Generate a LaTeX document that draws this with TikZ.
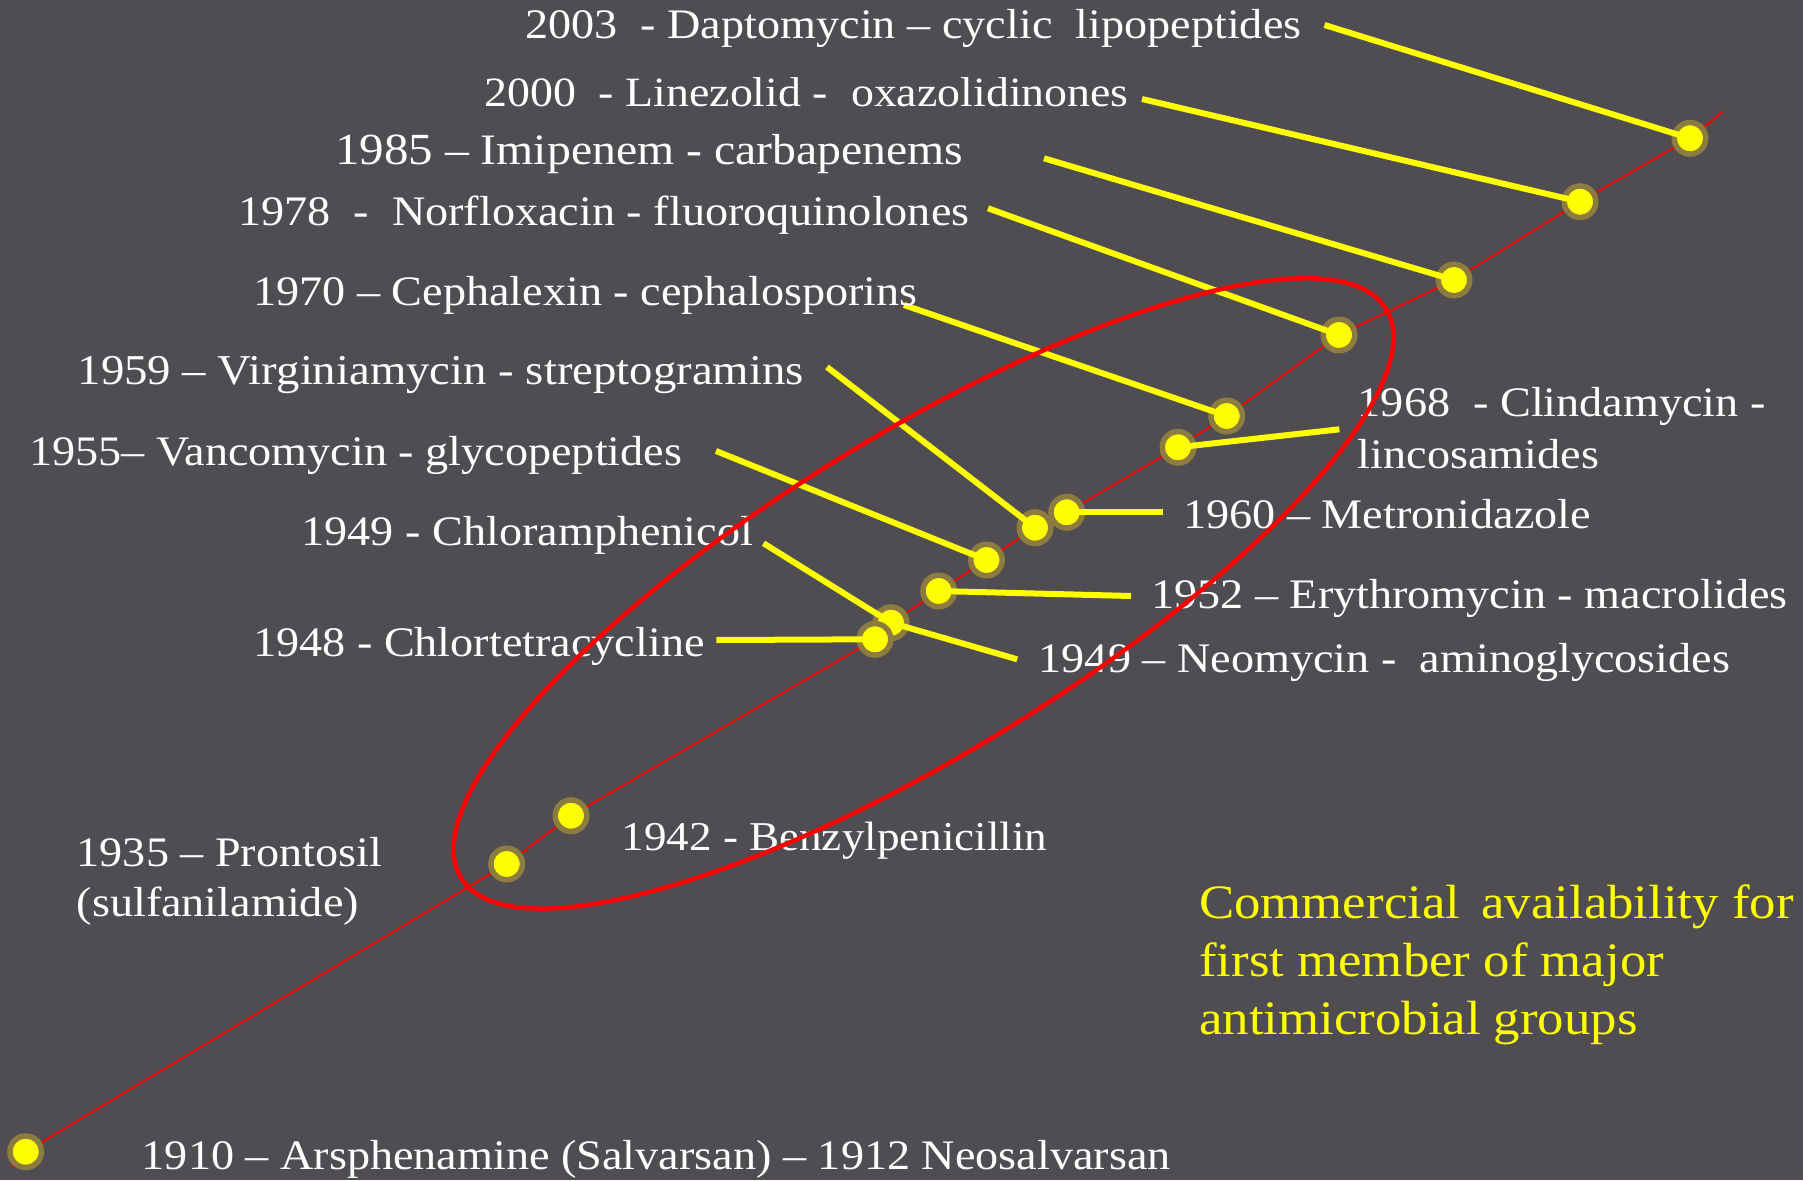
\documentclass[tikz,border=0pt]{standalone}
\usepackage{fontspec}
\setmainfont{Liberation Serif}[FakeStretch=1.10]
\definecolor{bg}{RGB}{79,77,82}
\definecolor{ring}{RGB}{140,124,64}
\definecolor{yel}{RGB}{255,255,0}
\definecolor{tred}{RGB}{255,0,0}
\begin{document}
\begin{tikzpicture}[x=1pt,y=-1pt,
  dot/.style={circle, fill=yel, draw=ring, line width=5.5pt, minimum size=31.5pt, inner sep=0pt},
  conn/.style={draw=yel, line width=6pt},
  lbl/.style={text=white, anchor=base west, inner sep=0pt, font=\fontsize{42}{50}\selectfont},
  note/.style={text=yel, anchor=base west, inner sep=0pt, font=\fontsize{48}{58}\selectfont},
  tline/.style={draw=tred, line width=1.8pt},
  oval/.style={draw=tred, line width=4.5pt}]
\fill[bg] (0,0) rectangle (1803,1180);
\useasboundingbox (0,0) rectangle (1803,1180);
% positions of the dots
\coordinate (p1910) at (25.7,1151.7);
\coordinate (p1935) at (506.7,864);
\coordinate (p1942) at (571,815.7);
\coordinate (p1948) at (875,639.3);
\coordinate (p1949) at (891,622.7);
\coordinate (p1952) at (938.7,591);
\coordinate (p1955) at (986.5,560);
\coordinate (p1959) at (1035,527.7);
\coordinate (p1960) at (1066.7,512.3);
\coordinate (p1968) at (1178,447.3);
\coordinate (p1970) at (1226.7,416);
\coordinate (p1978) at (1339,335);
\coordinate (p1985) at (1454,280);
\coordinate (p2000) at (1580,201.7);
\coordinate (p2003) at (1690,138.3);
\coordinate (tstart) at (11.7,1167);
\coordinate (tend) at (1722.6,111.7);
% timeline
\draw[tline] (tstart) -- (p1910) -- (p1935) -- (p1942) -- (p1948) -- (p1949) -- (p1952)
  -- (p1955) -- (p1959) -- (p1960) -- (p1968) -- (p1970) -- (p1978) -- (p1985)
  -- (p2000) -- (p2003) -- (tend);
% dots
\node[dot] (d1910) at (p1910) {};
\node[dot] (d1935) at (p1935) {};
\node[dot] (d1942) at (p1942) {};
\node[dot] (d1949) at (p1949) {};
\node[dot] (d1948) at (p1948) {};
\node[dot] (d1952) at (p1952) {};
\node[dot] (d1955) at (p1955) {};
\node[dot] (d1960) at (p1960) {};
\node[dot] (d1959) at (p1959) {};
\node[dot] (d1968) at (p1968) {};
\node[dot] (d1970) at (p1970) {};
\node[dot] (d1978) at (p1978) {};
\node[dot] (d1985) at (p1985) {};
\node[dot] (d2000) at (p2000) {};
\node[dot] (d2003) at (p2003) {};
% connector free ends
\coordinate (c2003) at (1324.5,25);
\coordinate (c2000) at (1142,99);
\coordinate (c1985) at (1044,158.3);
\coordinate (c1978) at (988,208.3);
\coordinate (c1970) at (904,305);
\coordinate (c1959) at (827,367);
\coordinate (c1955) at (716,451);
\coordinate (c1949c) at (763.5,543.3);
\coordinate (c1948) at (716.4,640);
\coordinate (c1968) at (1339.4,429.3);
\coordinate (c1960) at (1163,512.3);
\coordinate (c1952) at (1131,596);
\coordinate (c1949n) at (1017.2,659.3);
% connectors
\draw[conn] (c2003) -- (d2003.center);
\draw[conn] (c2000) -- (d2000.center);
\draw[conn] (c1985) -- (d1985.center);
\draw[conn] (c1978) -- (d1978.center);
\draw[conn] (c1970) -- (d1970.center);
\draw[conn] (c1959) -- (d1959.center);
\draw[conn] (c1955) -- (d1955.center);
\draw[conn] (c1949c) -- (d1949.center);
\draw[conn] (c1948) -- (d1948.center);
\draw[conn] (c1968) -- (d1968.center);
\draw[conn] (c1960) -- (d1960.center);
\draw[conn] (c1952) -- (d1952.center);
\draw[conn] (c1949n) -- (d1949.center);
% labels
\node[lbl] (l2003) at (525,38.5) {2003\ \ - Daptomycin – cyclic\ \ lipopeptides};
\node[lbl, font=\fontsize{41.7}{50}\selectfont] (l2000) at (484,107) {2000\ \ - Linezolid -\ \ oxazolidinones};
\node[lbl, font=\fontsize{43.4}{50}\selectfont] (l1985) at (335,164) {{\fontsize{44.5}{50}\selectfont 1985} – Imipenem - carbapenems};
\node[lbl] (l1978) at (238,225) {1978\ \ -\ \ Norfloxacin - fluoroquinolones};
\node[lbl] (l1970) at (253,305) {1970 – Cephalexin - cephalosporins};
\node[lbl, font=\fontsize{42.5}{50}\selectfont] (l1959) at (77.5,384) {1959 – Virginiamycin - streptogramins};
\node[lbl] (l1955) at (29,465) {1955– Vancomycin - glycopeptides};
\node[lbl] (l1949c) at (301.4,545) {1949 - Chloramphenicol};
\node[lbl] (l1948) at (253,656.7) {1948 - Chlortetracycline};
\node[lbl] (l1968a) at (1357.6,416.7) {1968\ \ - Clindamycin -};
\node[lbl] (l1968b) at (1357.6,468.3) {lincosamides};
\node[lbl] (l1960) at (1183,528.3) {1960 – Metronidazole};
\node[lbl] (l1952) at (1151,608.3) {1952 – Erythromycin - macrolides};
\node[lbl] (l1949n) at (1038.5,672.7) {1949 – Neomycin -\ \ aminoglycosides};
\node[lbl, font=\fontsize{41}{50}\selectfont] (l1942) at (621.4,850) {1942 - Benzylpenicillin};
\node[lbl] (l1935a) at (76.5,866) {1935 – Prontosil};
\node[lbl] (l1935b) at (76.5,916.7) {(sulfanilamide)};
\node[lbl] (l1910) at (141.6,1169.3) {1910 – Arsphenamine (Salvarsan) – 1912 Neosalvarsan};
\node[note] (n1) at (1199,918.3) {Commercial\ \,availability for};
\node[note] (n2) at (1199,976) {first member of major};
\node[note] (n3) at (1199,1034) {antimicrobial groups};
% red oval
\coordinate (ec) at (923.5,593.4);
\draw[oval, rotate around={31.6:(ec)}] (ec) ellipse [x radius=543pt, y radius=159pt];
\end{tikzpicture}
\end{document}
